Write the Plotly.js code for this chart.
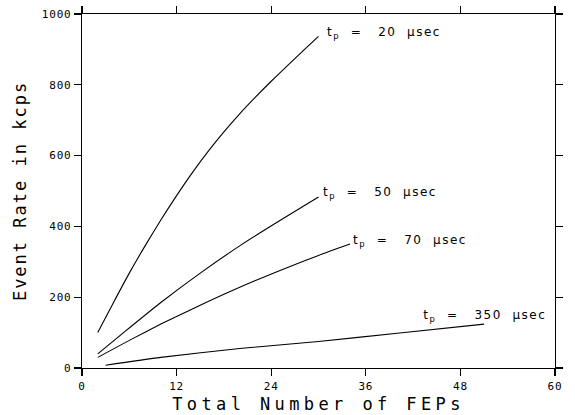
<!DOCTYPE html>
<html>
<head>
<meta charset="utf-8">
<script src="https://cdn.plot.ly/plotly-3.0.1.min.js"></script>
<style>
html,body{margin:0;padding:0;background:#fff;}
#chart{width:575px;height:415px;}
#chart .xtitle{letter-spacing:4.4px;}
#chart .ytitle{letter-spacing:2px;}
#chart .annotation-text{letter-spacing:1.5px;}
#chart .xtick text, #chart .ytick text{letter-spacing:0.8px;}
</style>
</head>
<body>
<div id="chart"></div>
<script>
// Data
const xTp20  = [2, 4, 6, 8, 10, 12, 14, 16, 18, 20, 22, 24, 26, 28, 30];
const yTp20  = [100, 185, 268, 345, 418, 487, 552, 612, 667, 718, 765, 810, 853, 895, 937];

const xTp50  = [2, 5, 10, 15, 20, 25, 30];
const yTp50  = [40, 95, 185, 268, 345, 415, 483];

const xTp70  = [2, 6, 10, 14, 18, 22, 26, 30, 34];
const yTp70  = [30, 78, 124, 167, 208, 247, 283, 318, 350];

const xTp350 = [3, 10, 20, 30, 40, 51];
const yTp350 = [8, 30, 55, 75, 98, 124];

const NB = "\u00a0";
const seriesNames = [
  "t<sub>p</sub>" + NB + " = " + NB + " 20 " + NB + "\u03bcsec",
  "t<sub>p</sub>" + NB + " = " + NB + " 50 " + NB + "\u03bcsec",
  "t<sub>p</sub>" + NB + " = " + NB + " 70 " + NB + "\u03bcsec",
  "t<sub>p</sub>" + NB + " = " + NB + " 350 " + NB + "\u03bcsec"
];
const labelX = [32.3, 31.9, 35.7, 44.6];
const labelY = [946, 494, 359, 147];

const xTickVals = [0, 12, 24, 36, 48, 60];
const xTickText = ["0", "12", "24", "36", "48", "60"];
const yTickVals = [0, 200, 400, 600, 800, 1000];
const yTickText = ["0", "200", "400", "600", "800", "1000"];

const xs = [xTp20, xTp50, xTp70, xTp350];
const ys = [yTp20, yTp50, yTp70, yTp350];

const traces = xs.map((x, i) => ({
  x: x, y: ys[i], type: "scatter", mode: "lines",
  line: {color: "#000", width: 1.1, shape: "spline", smoothing: 0.6},
  name: seriesNames[i], hoverinfo: "skip"
}));

const annotations = seriesNames.map((t, i) => ({
  x: labelX[i], y: labelY[i], xref: "x", yref: "y", text: t,
  showarrow: false, xanchor: "left", yanchor: "middle",
  font: {family: "DejaVu Sans", size: 12, color: "#000"}
}));

const axisCommon = {
  showgrid: false, zeroline: false, showline: true, linecolor: "#000", linewidth: 1.3,
  ticks: "outside", ticklen: 7, tickwidth: 1.2, tickcolor: "#000", mirror: "ticks",
  tickfont: {family: "DejaVu Sans Mono", size: 11, color: "#000"}
};

const layout = {
  width: 575, height: 415,
  margin: {l: 82, r: 20, t: 14, b: 47},
  paper_bgcolor: "#fff", plot_bgcolor: "#fff",
  showlegend: false,
  xaxis: Object.assign({}, axisCommon, {
    range: [0, 60], tickvals: xTickVals, ticktext: xTickText,
    title: {text: "Total Number of FEPs", standoff: 6,
            font: {family: "DejaVu Sans Mono", size: 17, color: "#000"}}
  }),
  yaxis: Object.assign({}, axisCommon, {
    range: [0, 1000], tickvals: yTickVals, ticktext: yTickText,
    title: {text: "Event Rate in kcps", standoff: 14,
            font: {family: "DejaVu Sans Mono", size: 17, color: "#000"}}
  }),
  annotations: annotations
};

Plotly.newPlot("chart", traces, layout, {displayModeBar: false, staticPlot: true});
</script>
</body>
</html>
